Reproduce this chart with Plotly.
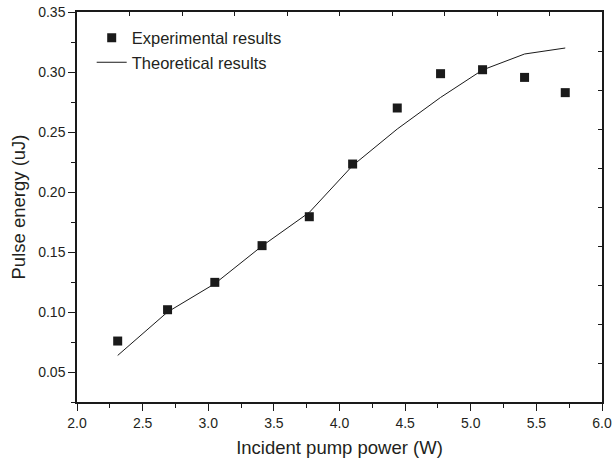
import plotly.graph_objects as go

# Data
exp_power = [2.31, 2.69, 3.05, 3.41, 3.77, 4.10, 4.44, 4.77, 5.09, 5.41, 5.72]
exp_energy = [0.0758, 0.1019, 0.1247, 0.1553, 0.1794, 0.2233, 0.2700, 0.2986, 0.3019, 0.2955, 0.2828]
theo_power = [2.31, 2.69, 3.05, 3.41, 3.77, 4.10, 4.44, 4.77, 5.09, 5.41, 5.72]
theo_energy = [0.0638, 0.1000, 0.1236, 0.1550, 0.1830, 0.2220, 0.2525, 0.2788, 0.3017, 0.3150, 0.3200]

x_title = "Incident pump power (W)"
y_title = "Pulse energy (uJ)"
series_names = ["Experimental results", "Theoretical results"]

FONT = "Liberation Sans, Arial, sans-serif"
TXT = "#231f20"

fig = go.Figure()
fig.add_trace(go.Scatter(
    x=exp_power, y=exp_energy, mode="markers", name=series_names[0],
    marker=dict(symbol="square", size=9, color="#1a1a1a", line=dict(width=0)),
))
fig.add_trace(go.Scatter(
    x=theo_power, y=theo_energy, mode="lines", name=series_names[1],
    line=dict(color="#1a1a1a", width=1),
))
# invisible trace to anchor top/right mirror axes
fig.add_trace(go.Scatter(x=[2.0], y=[0.025], xaxis="x2", yaxis="y2", mode="markers",
                         marker=dict(opacity=0), showlegend=False, hoverinfo="skip"))

axis_common = dict(showgrid=False, zeroline=False, showline=True, linecolor="#1a1a1a",
                   linewidth=1.5, tickcolor="#1a1a1a", tickwidth=1.2, automargin=False)

fig.update_layout(
    width=612, height=465,
    margin=dict(l=77, r=10, t=12, b=63, autoexpand=False),
    paper_bgcolor="white", plot_bgcolor="white",
    font=dict(family=FONT, color=TXT, size=14),
    showlegend=True,
    legend=dict(x=0.028, y=0.978, xanchor="left", yanchor="top",
                bgcolor="rgba(0,0,0,0)", font=dict(size=16.5, family=FONT, color=TXT),
                tracegroupgap=0, itemwidth=30),
    xaxis=dict(**axis_common, range=[2.0, 6.0], tick0=2.0, dtick=0.5, ticks="outside",
               ticklen=7, tickformat=".1f",
               minor=dict(dtick=0.25, ticks="outside", ticklen=4, tickcolor="#1a1a1a", tickwidth=1.2),
               title=dict(text=x_title, font=dict(size=18.5, family=FONT, color=TXT), standoff=12),
               tickfont=dict(size=14, family=FONT, color=TXT)),
    yaxis=dict(**axis_common, range=[0.025, 0.35], tick0=0.05, dtick=0.05, ticks="outside",
               ticklen=7, tickformat=".2f",
               minor=dict(tick0=0.025, dtick=0.025, ticks="outside", ticklen=4, tickcolor="#1a1a1a", tickwidth=1.2),
               title=dict(text=y_title, font=dict(size=18.5, family=FONT, color=TXT), standoff=8),
               tickfont=dict(size=14, family=FONT, color=TXT)),
    xaxis2=dict(**axis_common, overlaying="x", side="top", anchor="y", range=[2.0, 6.0],
                tick0=2.0, dtick=0.4, ticks="inside", ticklen=4, showticklabels=False),
    yaxis2=dict(**axis_common, overlaying="y", side="right", anchor="x", range=[0.025, 0.35],
                tick0=0.025, dtick=0.0325, ticks="inside", ticklen=4, showticklabels=False),
)

fig.write_html("out.html")
